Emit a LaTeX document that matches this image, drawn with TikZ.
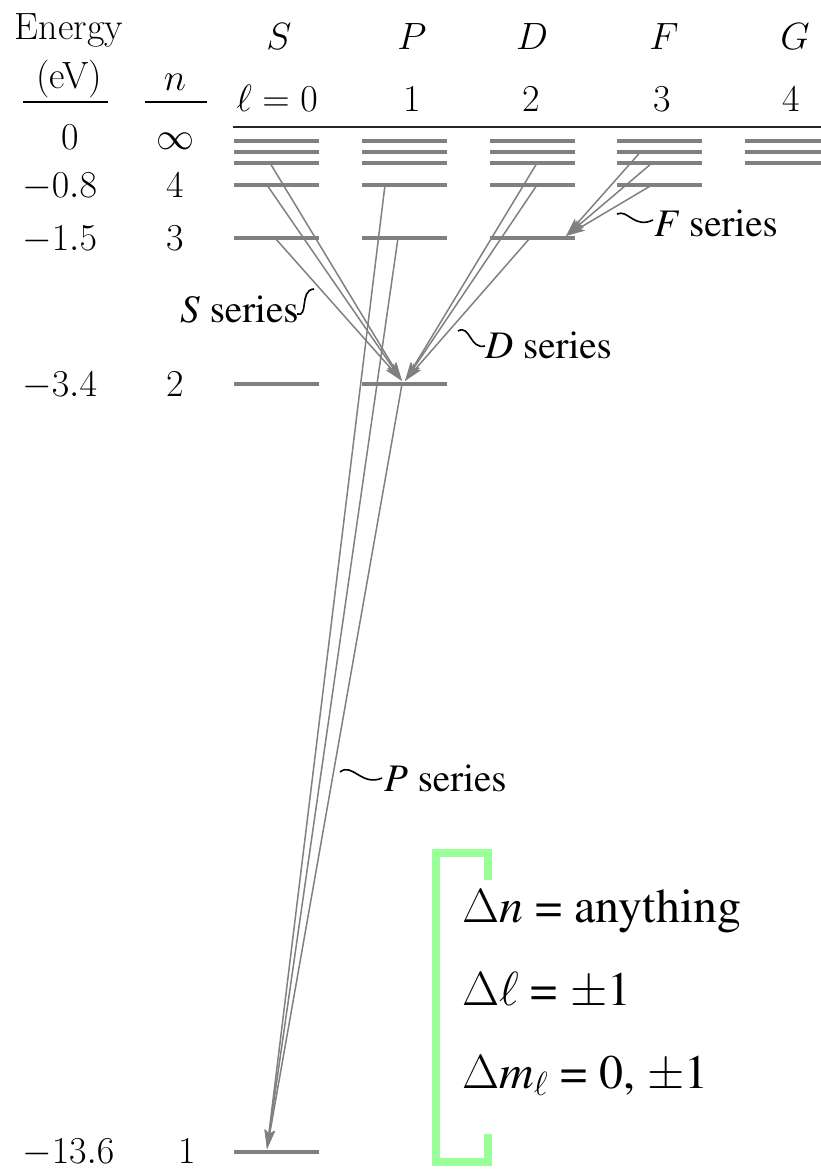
\RequirePackage{fix-cm}
\documentclass[tikz,border=0pt]{standalone}
\usepackage[T1]{fontenc}
\usepackage{fontspec}
\newcommand\timesfont{\fontencoding{T1}\fontfamily{ptm}\selectfont}
\usetikzlibrary{arrows.meta}
\usepackage{xcolor}
\definecolor{levelgray} {RGB}{128,128,128}
\definecolor{rulegreen} {RGB}{153,255,153}

\begin{document}
\begin{tikzpicture}[
    x=1pt, y=-1pt,
    bar/.style={rectangle, fill=levelgray, inner sep=0pt, minimum width=85pt, minimum height=4pt},
    txt/.style={inner sep=0pt, anchor=base, font=\fontsize{38}{44}\selectfont},
    series/.style={inner sep=0pt, anchor=base west, font=\timesfont\fontsize{39}{44}\selectfont},
    selrule/.style={inner sep=0pt, anchor=base west, font=\timesfont\fontsize{48}{54}\selectfont},
    arrow/.style={-{Stealth[length=19pt, width=10pt, inset=4pt]}, draw=levelgray, line width=1.5pt},
    squiggle/.style={draw=black, line width=1.6pt}
]
    \useasboundingbox (0,0) rectangle (821,1169);

    % column heads
    \node[txt] (energy) at (69,40) {Energy};
    \node[txt] (ev) at (69,89) {(eV)};
    \node[txt] (nhead) at (175,91) {$n$};
    \draw[line width=2pt] (23,102) -- (108,102);
    \draw[line width=2pt] (145,102) -- (207,102);
    \node[txt] (hS) at (279,50) {$S$};
    \node[txt] (hP) at (412,50) {$P$};
    \node[txt] (hD) at (532,50) {$D$};
    \node[txt] (hF) at (664,50) {$F$};
    \node[txt] (hG) at (795,50) {$G$};
    \node[txt] (l0) at (277,112) {$\ell = 0$};
    \node[txt] (l1) at (412,112) {1};
    \node[txt] (l2) at (531,112) {2};
    \node[txt] (l3) at (662,112) {3};
    \node[txt] (l4) at (791,112) {4};

    % energies and n
    \node[txt] (e0) at (70,150) {0};
    \node[txt] (ninf) at (175,150) {$\infty$};
    \node[txt, anchor=base west] (e4) at (22,197) {$-0.8$};
    \node[txt, anchor=base west] (e3) at (22,250) {$-1.5$};
    \node[txt, anchor=base west] (e2) at (22,396) {$-3.4$};
    \node[txt, anchor=base west] (e1) at (22,1163) {$-13.6$};
    \node[txt] (n4) at (175,197) {4};
    \node[txt] (n3) at (175,250) {3};
    \node[txt] (n2) at (175,396) {2};
    \node[txt] (n1) at (187,1163) {1};

    % ionization limit
    \draw[line width=2pt, black!85] (233,127) -- (821,127);

    % S levels
    \node[bar] (s7) at (276.5,141.5) {};
    \node[bar] (s6) at (276.5,152.5) {};
    \node[bar] (s5) at (276.5,163) {};
    \node[bar] (s4) at (276.5,185) {};
    \node[bar] (s3) at (276.5,238) {};
    \node[bar] (s2) at (276.5,384) {};
    \node[bar] (s1) at (276.5,1152) {};
    % P levels
    \node[bar] (p7) at (404.5,141.5) {};
    \node[bar] (p6) at (404.5,152.5) {};
    \node[bar] (p5) at (404.5,163) {};
    \node[bar] (p4) at (404.5,185) {};
    \node[bar] (p3) at (404.5,238) {};
    \node[bar] (p2) at (404.5,384) {};
    % D levels
    \node[bar] (d7) at (532.5,141.5) {};
    \node[bar] (d6) at (532.5,152.5) {};
    \node[bar] (d5) at (532.5,163) {};
    \node[bar] (d4) at (532.5,185) {};
    \node[bar] (d3) at (532.5,238) {};
    % F levels
    \node[bar] (f7) at (659.5,141.5) {};
    \node[bar] (f6) at (659.5,152.5) {};
    \node[bar] (f5) at (659.5,163) {};
    \node[bar] (f4) at (659.5,185) {};
    % G levels
    \node[bar] (g7) at (787.5,141.5) {};
    \node[bar] (g6) at (787.5,152.5) {};
    \node[bar] (g5) at (787.5,163) {};

    % S series
    \draw[arrow] ([xshift=-6.5pt]s5.center) -- ([xshift=-2.5pt, yshift=3pt]p2.center);
    \draw[arrow] ([xshift=-9.5pt]s4.center) -- ([xshift=-2.5pt, yshift=3pt]p2.center);
    \draw[arrow] ([xshift=-1.5pt]s3.center) -- ([xshift=-2.5pt, yshift=3pt]p2.center);
    % D series
    \draw[arrow] ([xshift=4.5pt]d5.center) -- ([xshift=0.5pt, yshift=3pt]p2.center);
    \draw[arrow] ([xshift=4.5pt]d4.center) -- ([xshift=0.5pt, yshift=3pt]p2.center);
    \draw[arrow] ([xshift=-2.5pt]d3.center) -- ([xshift=0.5pt, yshift=3pt]p2.center);
    % F series
    \draw[arrow] ([xshift=-19.5pt]f6.center) -- ([xshift=33.5pt, yshift=2pt]d3.center);
    \draw[arrow] ([xshift=-7.5pt]f5.center) -- ([xshift=33.5pt, yshift=2pt]d3.center);
    \draw[arrow] ([xshift=-7.5pt]f4.center) -- ([xshift=33.5pt, yshift=2pt]d3.center);
    % P series
    \draw[arrow] ([xshift=-19.5pt]p4.center) -- ([xshift=-9.5pt, yshift=3pt]s1.center);
    \draw[arrow] ([xshift=-6.5pt]p3.center) -- ([xshift=-9.5pt, yshift=3pt]s1.center);
    \draw[arrow] ([xshift=-2.5pt]p2.center) -- ([xshift=-9.5pt, yshift=3pt]s1.center);

    % series labels
    \node[series] (Sser) at (180,322) {\textit{S} series};
    \node[series] (Dser) at (485,358) {\textit{D} series};
    \node[series] (Fser) at (654,236) {\textit{F} series};
    \node[series] (Pser) at (384,791) {\textit{P} series};
    \draw[squiggle] (297,314) .. controls (309,318) and (299,290) .. (314,289);
    \draw[squiggle] (458,331) .. controls (470,324) and (470,350) .. (485,346);
    \draw[squiggle] (617,214) .. controls (628,209) and (634,229) .. (653,220);
    \draw[squiggle] (340,772) .. controls (352,762) and (362,787) .. (382,778);

    % selection rules
    \draw[rulegreen, line width=8pt] (488,880) |- (435.5,853) |- (488,1162) -- (488,1134);
    \node[selrule] (dn) at (462,922) {$\Delta$\textit{n} = anything};
    \node[selrule] (dl) at (462,1005) {$\Delta\ell$ = $\pm$1};
    \node[selrule] (dm) at (462,1088) {$\Delta$\textit{m}$_\ell$ = 0, $\pm$1};
\end{tikzpicture}
\end{document}
